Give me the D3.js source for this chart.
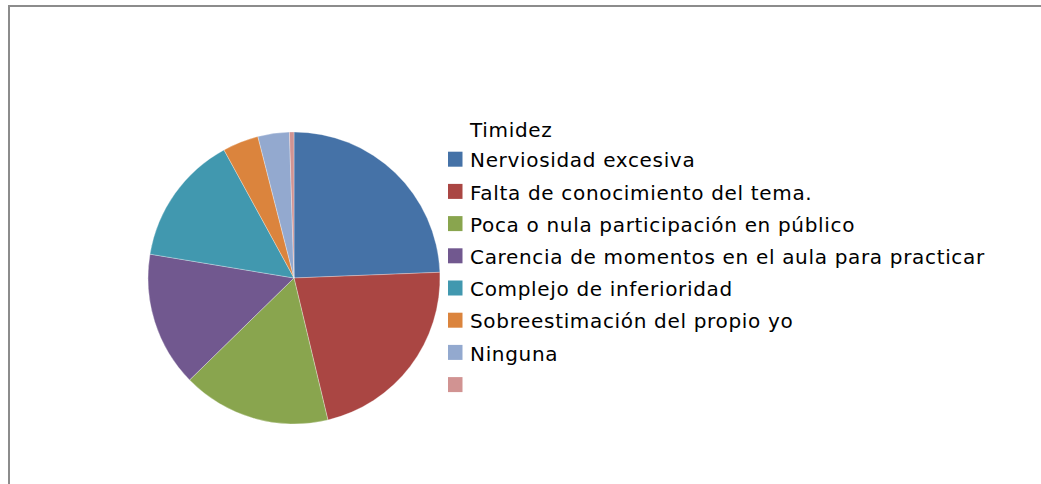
<!DOCTYPE html>
<html lang="es">
  <head>
    <meta charset="UTF-8" />
    <title>Timidez</title>
    <script src="https://cdn.jsdelivr.net/npm/d3@7"></script>
    <style>
      body { margin: 0; background: #fff; }
    </style>
  </head>
  <body>
    <svg width="1041" height="484"></svg>
  </body>
  <script>
    var categories = [
      "Nerviosidad excesiva",
      "Falta de conocimiento del tema.",
      "Poca o nula participación en público",
      "Carencia de momentos en el aula para practicar",
      "Complejo de inferioridad",
      "Sobreestimación del propio yo",
      "Ninguna",
      ""
    ];
    var values = [49, 44, 33, 30, 29, 8, 7, 1];
    var colors = ["#4572a7", "#aa4643", "#89a54e", "#71588f", "#4198af", "#db843d", "#93a9cf", "#d19392"];
    var seriesName = "Timidez";

    var svg = d3.select("svg");

    // chart frame (runs off the right and bottom edges)
    svg.append("rect")
      .attr("x", 9).attr("y", 6)
      .attr("width", 1100).attr("height", 600)
      .attr("fill", "none")
      .attr("stroke", "#8c8c8c")
      .attr("stroke-width", 2);

    var cx = 294, cy = 278, r = 146;
    var pie = d3.pie().sort(null).value((d) => d);
    var arc = d3.arc().innerRadius(0).outerRadius(r);
    var color = d3.scaleOrdinal().domain(d3.range(values.length)).range(colors);

    svg.append("g")
      .attr("transform", "translate(" + cx + "," + cy + ")")
      .selectAll("path")
      .data(pie(values))
      .enter()
      .append("path")
      .attr("d", arc)
      .attr("fill", (d, i) => color(i))
      .attr("stroke", "#ffffff")
      .attr("stroke-opacity", 0.5)
      .attr("stroke-width", 0.6);

    // legend
    var lx = 448, ly = 167.3, step = 32.2;
    var legend = svg.append("g").attr("font-family", "DejaVu Sans, sans-serif")
      .attr("font-size", "20px").attr("fill", "#000");

    legend.append("text")
      .attr("x", lx + 22).attr("y", 136.7)
      .text(seriesName);

    var items = legend.selectAll("g.item")
      .data(categories)
      .enter()
      .append("g")
      .attr("class", "item")
      .attr("transform", (d, i) => "translate(" + lx + "," + (ly + step * i) + ")");

    items.append("rect")
      .attr("x", 0).attr("y", -15.6)
      .attr("width", 14.5).attr("height", 15)
      .attr("fill", (d, i) => color(i));

    items.append("text")
      .attr("x", 22).attr("y", 0)
      .text((d) => d);

    // stretch the legend text a little so the longest line ends where the original does
    var longest = d3.max(items.selectAll("text").nodes(), (n) => n.getComputedTextLength());
    var target = 515;
    var chars = d3.max(categories, (c) => c.length);
    legend.attr("letter-spacing", ((target - longest) / chars).toFixed(2) + "px");
  </script>
</html>
